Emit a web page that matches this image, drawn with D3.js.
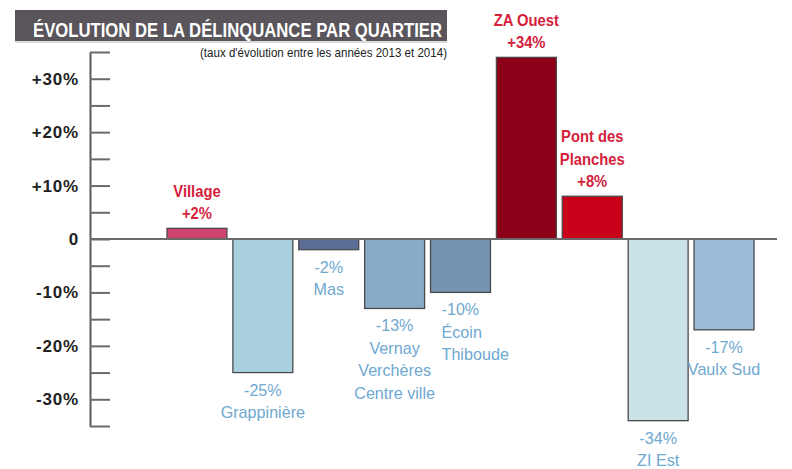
<!DOCTYPE html>
<html>
<head>
<meta charset="utf-8">
<script src="https://cdn.jsdelivr.net/npm/d3@7"></script>
<style>
  body { margin: 0; background: #fff; }
  svg { display: block; }
  text { font-family: "Liberation Sans", Arial, sans-serif; }
</style>
</head>
<body>
<svg id="chart" width="792" height="469"></svg>
<script>
const quartiers = ["Village", "Grappinière", "Mas", "Vernay Verchères Centre ville", "Écoin Thiboude",
  "ZA Ouest", "Pont des Planches", "ZI Est", "Vaulx Sud"];
const nomLignes = [["Village"], ["Grappinière"], ["Mas"], ["Vernay", "Verchères", "Centre ville"],
  ["Écoin", "Thiboude"], ["ZA Ouest"], ["Pont des", "Planches"], ["ZI Est"], ["Vaulx Sud"]];
const evolution = [2, -25, -2, -13, -10, 34, 8, -34, -17];
const couleurs = ["#d0436e", "#a9d1df", "#5b6e96", "#88abca", "#7592b0", "#8c0018", "#c8001a", "#c9e3e7", "#9abcd8"];
const yTicks = [-30, -20, -10, 0, 10, 20, 30];
const titre = "ÉVOLUTION DE LA DÉLINQUANCE PAR QUARTIER";
const sousTitre = "(taux d'évolution entre les années 2013 et 2014)";

const svg = d3.select('#chart');

// title band
svg.append('rect').attr('x', 15).attr('y', 10).attr('width', 432).attr('height', 31).attr('fill', '#5a545b');
svg.append('line').attr('x1', 15).attr('x2', 447).attr('y1', 42).attr('y2', 42)
  .attr('stroke', '#b9b6b9').attr('stroke-width', 1);
svg.append('text').attr('x', 33).attr('y', 37).attr('fill', '#fff')
  .attr('font-size', 21).attr('font-weight', 'bold')
  .attr('textLength', 409).attr('lengthAdjust', 'spacingAndGlyphs')
  .text(titre);
svg.append('text').attr('x', 200).attr('y', 57).attr('fill', '#222')
  .attr('font-size', 12)
  .attr('textLength', 247).attr('lengthAdjust', 'spacingAndGlyphs')
  .text(sousTitre);

let yScale = d3.scaleLinear().domain([-35, 35]).range([426, 52]);
let xScale = d3.scaleBand().domain(quartiers).range([167, 754]).paddingInner(0.09).paddingOuter(0);

// small ticks every 5%
let tickAxis = d3.axisRight(yScale).tickValues(d3.range(-35, 36, 5)).tickSize(20).tickSizeOuter(0).tickFormat('');
let gTicks = svg.append('g').attr('transform', 'translate(90,0)').call(tickAxis);
gTicks.select('.domain').attr('stroke', '#5a5a5a').attr('stroke-width', 2);
gTicks.selectAll('.tick line').attr('stroke', '#6a6a6a').attr('stroke-width', 2);

// labels
let labelAxis = d3.axisLeft(yScale).tickValues(yTicks).tickSize(0).tickPadding(11)
  .tickFormat(d => d === 0 ? '0' : (d > 0 ? '+' + d + '%' : d + '%'));
let gLab = svg.append('g').attr('transform', 'translate(90,0)').call(labelAxis);
gLab.select('.domain').remove();
gLab.selectAll('text').attr('font-family', '"Liberation Sans", sans-serif')
  .attr('font-size', 17).attr('font-weight', 'bold').attr('fill', '#222').attr('letter-spacing', 0.8);

// bars
svg.selectAll('rect.bar')
  .data(evolution)
  .enter()
  .append('rect')
  .attr('class', 'bar')
  .attr('x', (d, i) => xScale(quartiers[i]))
  .attr('width', xScale.bandwidth())
  .attr('y', d => yScale(Math.max(0, d)))
  .attr('height', d => Math.abs(yScale(d) - yScale(0)))
  .attr('fill', (d, i) => couleurs[i])
  .attr('stroke', '#4a4a4a')
  .attr('stroke-width', 1.3);

// zero line
svg.append('line').attr('x1', 90).attr('x2', 777).attr('y1', yScale(0)).attr('y2', yScale(0))
  .attr('stroke', '#6a6a6a').attr('stroke-width', 2);

// bar labels (condensed look via horizontal scaling), one text per line
const lineH = 22.5;
evolution.forEach((v, i) => {
  let bx = xScale(quartiers[i]);
  let gauche = quartiers[i] === "Écoin Thiboude";
  let ax = gauche ? bx + 11 : bx + xScale.bandwidth() / 2;
  let pct = (v > 0 ? '+' : '') + v + '%';
  let lines, y0;
  if (v > 0) {
    lines = nomLignes[i].concat([pct]);
    y0 = yScale(v) - 9 - lineH * (lines.length - 1);
  } else {
    lines = [pct].concat(nomLignes[i]);
    y0 = yScale(v) + 23;
  }
  let g = svg.append('g').attr('transform', `translate(${ax},0) scale(${v > 0 ? 0.87 : 0.95},1)`);
  g.selectAll('text')
    .data(lines)
    .enter()
    .append('text')
    .attr('x', 0)
    .attr('y', (l, k) => y0 + k * lineH)
    .attr('text-anchor', gauche ? 'start' : 'middle')
    .attr('font-size', 17)
    .attr('font-weight', v > 0 ? 'bold' : 'normal')
    .attr('fill', v > 0 ? '#d4213c' : '#6fa8d0')
    .text(l => l);
});
</script>
</body>
</html>
